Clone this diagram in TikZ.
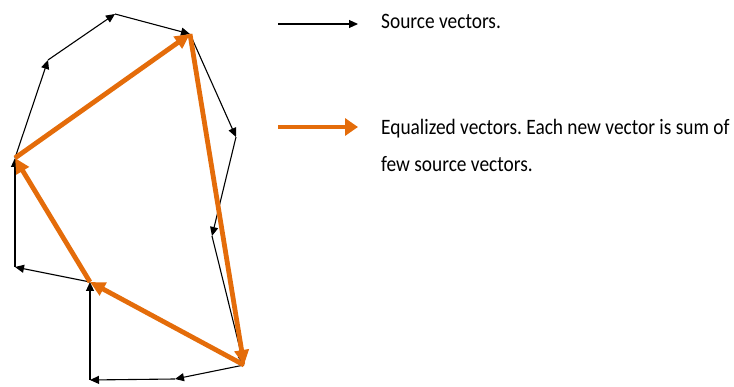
\documentclass[tikz,border=0pt]{standalone}
\usepackage{fontspec}
\setmainfont{Carlito}
\newfontfamily\legendfont[FakeStretch=0.88]{Carlito}
\usetikzlibrary{arrows.meta}
\definecolor{eqorange}{RGB}{228,108,10}
\frenchspacing
\tikzset{
  srcvec/.style={-{Triangle[length=9pt,width=8pt]}, line width=1.1pt, black},
  eqvec/.style={-{Triangle[length=15pt,width=14pt]}, line width=4.8pt, eqorange},
  legendtext/.style={anchor=base west, inner sep=0pt, align=left, font=\legendfont\fontsize{22}{37}\selectfont}
}
\begin{document}
\begin{tikzpicture}[x=1pt, y=-1pt, line join=round]
	\useasboundingbox (0,0) rectangle (734,387);
	% corners of the source path
	\coordinate (A) at (15,158);
	\coordinate (B) at (48,60);
	\coordinate (C) at (115,14);
	\coordinate (D) at (190,34);
	\coordinate (E) at (236,137);
	\coordinate (F) at (212,236);
	\coordinate (G) at (244,365);
	\coordinate (H) at (175,379);
	\coordinate (I) at (90,380);
	\coordinate (J) at (90,282);
	\coordinate (K) at (15,267);
	% source vectors
	\foreach \p/\q in {A/B,B/C,C/D,D/E,E/F,F/G,G/H,H/I,I/J,J/K,K/A}
		\draw[srcvec] (\p)--(\q);
	% equalized vectors
	\foreach \p/\q in {A/D,D/G,G/J,J/A}
		\draw[eqvec] (\p)--(\q);
	% legend
	\coordinate (srcfrom) at (278,24);
	\coordinate (srcto) at (358,24);
	\coordinate (eqfrom) at (278,127);
	\coordinate (eqto) at (358,127);
	\draw[srcvec] (srcfrom)--(srcto);
	\draw[eqvec, -{Triangle[length=13pt,width=17pt]}] (eqfrom)--(eqto);
	\node[legendtext] (srclabel) at (381,29) {Source vectors.};
	\node[legendtext] (eqlabel) at (381,172) {Equalized vectors. Each new vector is sum of\\few source vectors.};
\end{tikzpicture}
\end{document}
